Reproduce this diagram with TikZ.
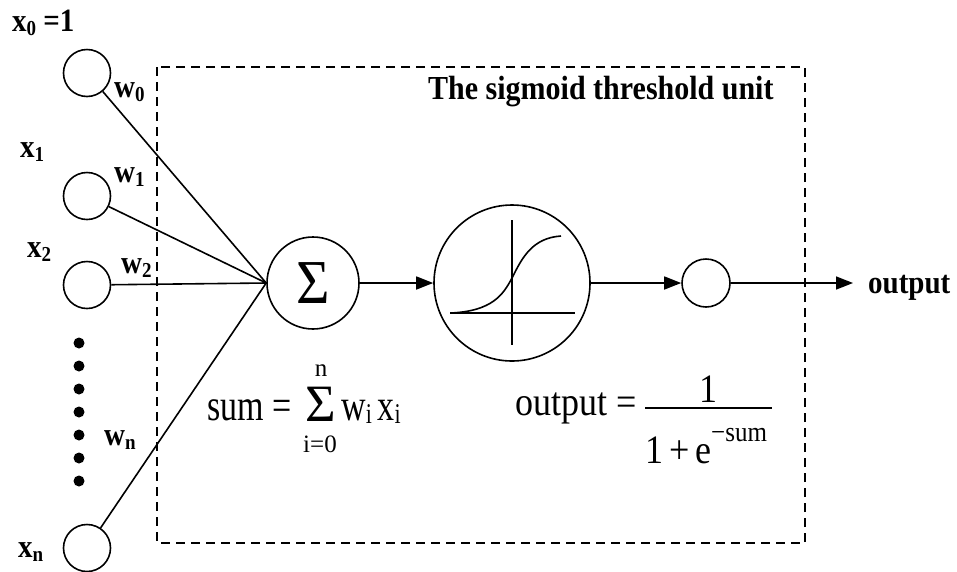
\documentclass[tikz,border=0pt]{standalone}
\usepackage{fontspec}
\usepackage{graphicx}
\setmainfont{Liberation Serif}
\usetikzlibrary{arrows.meta}
\newcommand{\lsub}[1]{\raisebox{-4pt}{\fontsize{19}{19}\selectfont #1}}
\newcommand{\fsub}[1]{\raisebox{-3pt}{\fontsize{22}{22}\selectfont #1}}
\newcommand{\vstretch}[1]{\scalebox{1}[1.3]{#1}}
\newcommand{\vstretchb}[1]{\scalebox{1}[1.12]{#1}}
\tikzset{
  inp/.style={circle, draw, line width=1.6pt, minimum size=47pt, inner sep=0pt},
  lbl/.style={font=\fontsize{29}{34}\selectfont\bfseries, anchor=base west, inner sep=0pt},
  conn/.style={line width=1.6pt},
  arr/.style={line width=1.6pt, -{Triangle[length=17pt,width=13pt]}},
  blob/.style={circle, fill, minimum size=11pt, inner sep=0pt},
  frm/.style={font=\fontsize{34}{40}\selectfont, anchor=base west, inner sep=0pt},
  frmb/.style={font=\fontsize{36}{42}\selectfont, inner sep=0pt},
  small/.style={font=\fontsize{25}{28}\selectfont, inner sep=0pt},
}
\begin{document}
\begin{tikzpicture}[x=1pt,y=-1pt]
\useasboundingbox (0,0) rectangle (957,571);
% dashed frame
\draw[line width=2pt, dash pattern=on 9pt off 6pt] (157,67) rectangle (805,543);
\node[lbl, font=\fontsize{30}{34}\selectfont\bfseries] (title) at (428,99) {\vstretchb{The sigmoid threshold unit}};
% inputs
\node[inp] (x0) at (87,73) {};
\node[inp] (x1) at (87,196) {};
\node[inp] (x2) at (87,285) {};
\node[inp] (xn) at (87,548) {};
\foreach \k in {0,...,6} \node[blob] (d\k) at (79,{343+23*\k}) {};
% labels
\node[lbl] (lx0) at (12,31) {\vstretchb{x\lsub{0} =1}};
\node[lbl] (lx1) at (20,157) {\vstretchb{x\lsub{1}}};
\node[lbl] (lx2) at (27,257) {\vstretchb{x\lsub{2}}};
\node[lbl] (lxn) at (18,557) {\vstretchb{x\lsub{n}}};
\node[lbl] (lw0) at (114,97) {\vstretchb{w\lsub{0}}};
\node[lbl] (lw1) at (114,182) {\vstretchb{w\lsub{1}}};
\node[lbl] (lw2) at (121,273) {\vstretchb{w\lsub{2}}};
\node[lbl] (lwn) at (104,445) {\vstretchb{w\lsub{n}}};
% summation unit
\node[circle, draw, line width=1.6pt, minimum size=92pt, inner sep=0pt] (sum) at (313,283)
  {\scalebox{1.15}[1.25]{\fontsize{50}{50}\selectfont Σ}};
\draw[conn] (x0) -- (sum.west);
\draw[conn] (x1) -- (sum.west);
\draw[conn] (x2) -- (sum.west);
\draw[conn] (xn) -- (sum.west);
% sigmoid unit
\node[circle, draw, line width=1.6pt, minimum size=156pt, inner sep=0pt] (sig) at (512,283) {};
\draw[conn] (450,313) -- (575,313);
\draw[conn] (512,220) -- (512,345);
\draw[conn] (451,313) .. controls (492,311) and (503,295) .. (512,278)
  .. controls (522,258) and (532,238) .. (561,236);
\draw[arr] (sum.east) -- (sig.west);
% output unit
\node[inp, minimum size=48pt] (out) at (706,283) {};
\draw[arr] (sig.east) -- (out.west);
\coordinate (outend) at (853,283);
\draw[arr] (out.east) -- (outend);
\node[lbl] (outlbl) at (868,293) {\vstretchb{output}};
% sum formula
\node[frm] (sumtxt) at (207,420) {\vstretch{sum =}};
\node[frm, anchor=base, font=\fontsize{50}{50}\selectfont, text height=34pt, text depth=2pt] (bigsig) at (321,421) {\scalebox{1.05}[1.05]{Σ}};
\node[small, anchor=base] (sup) at (321,376) {n};
\node[small, anchor=base] (sub) at (320,452) {i=0};
\node[frm] (wx) at (341,420) {\vstretch{w\fsub{i}\,x\fsub{i}}};
% output formula
\node[frmb, anchor=base west] (outtxt) at (515,415) {\vstretchb{output =}};
\node[frmb, anchor=base] (num) at (708,402) {\vstretchb{1}};
\draw[line width=1.6pt] (645,408) -- (772,408);
\node[frmb, anchor=base west] (den) at (645,463) {\vstretchb{1\,+\,e}};
\node[small, anchor=base west] (exp) at (711,441) {\vstretchb{−sum}};
\end{tikzpicture}
\end{document}
